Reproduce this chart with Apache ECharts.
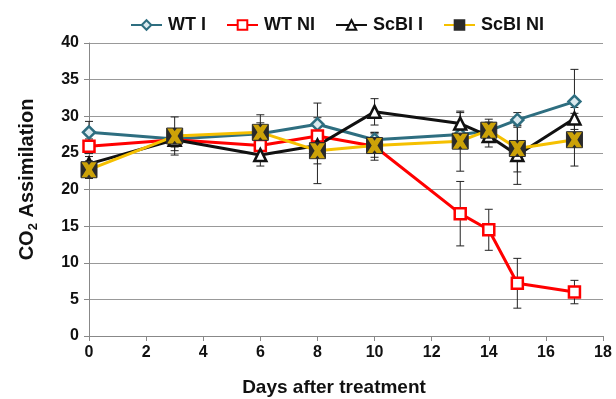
<!DOCTYPE html>
<html>
<head>
<meta charset="utf-8">
<script src="https://cdn.jsdelivr.net/npm/echarts@6/dist/echarts.min.js"></script>
<style>
  html, body { margin: 0; padding: 0; background: #fff; }
  #chart { width: 616px; height: 399px; }
</style>
</head>
<body>
<div id="chart"></div>
<script>
// days measured
var days = [0, 3, 6, 8, 10, 13, 14, 15, 17];

// CO2 assimilation means
var wtI   = [27.8, 26.9, 27.6, 28.9, 26.8, 27.5, 28.0, 29.5, 32.0];
var wtNI  = [25.9, 26.8, 26.0, 27.3, 25.9, 16.7, 14.5, 7.2, 6.0];
var scbiI  = [23.5, 26.8, 24.7, 26.0, 30.6, 29.0, 27.3, 24.7, 29.7];
var scbiNI = [22.7, 27.3, 27.8, 25.3, 26.0, 26.6, 28.1, 25.6, 26.8];

// error (+/-)
var wtIErr   = [1.5, 0.8, 1.5, 2.9, 1.0, 1.5, 1.2, 1.0, 4.4];
var wtNIErr  = [1.0, 1.0, 1.2, 1.5, 1.9, 4.4, 2.8, 3.4, 1.6];
var scbiIErr  = [1.0, 1.5, 1.5, 2.5, 1.8, 1.5, 1.5, 4.0, 1.5];
var scbiNIErr = [1.2, 2.6, 2.4, 4.5, 1.6, 4.1, 1.5, 3.2, 3.6];

var names = ['WT I', 'WT NI', 'ScBI I', 'ScBI NI'];
var fontFam = 'Liberation Sans, Arial, sans-serif';

var pairs = function(vals){
    return days.map(function(d, i){ return [d, vals[i]]; });
};
var errData = function(vals, errs){
    return days.map(function(d, i){ return [d, vals[i] - errs[i], vals[i] + errs[i]]; });
};

var renderErr = function(params, api){
    var x = api.value(0);
    var lo = api.coord([x, api.value(1)]);
    var hi = api.coord([x, api.value(2)]);
    var w = 4;
    var st = { stroke: '#222', lineWidth: 1 };
    return {
        type: 'group',
        children: [
            { type: 'line', shape: { x1: hi[0], y1: hi[1], x2: lo[0], y2: lo[1] }, style: st },
            { type: 'line', shape: { x1: hi[0] - w, y1: hi[1], x2: hi[0] + w, y2: hi[1] }, style: st },
            { type: 'line', shape: { x1: lo[0] - w, y1: lo[1], x2: lo[0] + w, y2: lo[1] }, style: st }
        ]
    };
};

var errSeries = function(vals, errs){
    return {
        type: 'custom',
        renderItem: renderErr,
        data: errData(vals, errs),
        clip: false,
        z: 3,
        silent: true
    };
};

// bold X drawn over the dark square
var xPath = 'path://M0,0 L3.6,0 L5,1.8 L6.4,0 L10,0 L6.9,5 L10,10 L6.4,10 L5,8.2 L3.6,10 L0,10 L3.1,5 Z';

var option = {
    animation: false,
    legend: {
        top: 11,
        left: 125,
        itemGap: 20,
        itemWidth: 31,
        itemHeight: 12,
        data: names,
        textStyle: { fontFamily: fontFam, fontWeight: 'bold', fontSize: 18, color: '#111', padding: [0, 0, 0, 1] }
    },
    grid: { left: 89, right: 13, top: 43, bottom: 63, outerBoundsMode: 'none' },
    xAxis: {
        type: 'value',
        min: 0, max: 18, interval: 2,
        name: 'Days after treatment',
        nameLocation: 'middle',
        nameGap: 42,
        nameTextStyle: { fontFamily: fontFam, fontWeight: 'bold', fontSize: 19, color: '#111', padding: [0, 24, 0, 0] },
        axisLine: { lineStyle: { color: '#888', width: 1 } },
        axisTick: { lineStyle: { color: '#888' }, length: 5 },
        axisLabel: { fontFamily: fontFam, fontWeight: 'bold', fontSize: 16, color: '#111', margin: 9 },
        splitLine: { show: false }
    },
    yAxis: {
        type: 'value',
        min: 0, max: 40, interval: 5,
        name: '{a|CO}{s|2}{a| Assimilation}',
        nameLocation: 'middle',
        nameRotate: 90,
        nameGap: 49,
        nameTextStyle: {
            padding: [0, 0, 0, 20],
            rich: {
                a: { fontFamily: fontFam, fontWeight: 'bold', fontSize: 20, color: '#111', lineHeight: 26 },
                s: { fontFamily: fontFam, fontWeight: 'bold', fontSize: 13, color: '#111', lineHeight: 26, verticalAlign: 'bottom', padding: [9, 0, 0, 0] }
            }
        },
        axisLine: { show: true, lineStyle: { color: '#888', width: 1 } },
        axisTick: { show: true, lineStyle: { color: '#888' }, length: 5 },
        axisLabel: { fontFamily: fontFam, fontWeight: 'bold', fontSize: 16, color: '#111', margin: 10 },
        splitLine: { lineStyle: { color: '#999', width: 1 } }
    },
    series: [
        errSeries(wtI, wtIErr),
        errSeries(wtNI, wtNIErr),
        errSeries(scbiI, scbiIErr),
        errSeries(scbiNI, scbiNIErr),
        {
            name: 'WT I', type: 'line', data: pairs(wtI), z: 4,
            symbol: 'diamond', symbolSize: 12,
            lineStyle: { color: '#2e6e80', width: 3 },
            itemStyle: { color: '#dbeaef', borderColor: '#2e6e80', borderWidth: 2.5 }
        },
        {
            name: 'WT NI', type: 'line', data: pairs(wtNI), z: 5,
            symbol: 'rect', symbolSize: 11,
            lineStyle: { color: '#ff0000', width: 3 },
            itemStyle: { color: '#ffffff', borderColor: '#ff0000', borderWidth: 2.5 }
        },
        {
            name: 'ScBI I', type: 'line', data: pairs(scbiI), z: 5,
            symbol: 'triangle', symbolSize: 12,
            lineStyle: { color: '#111111', width: 3 },
            itemStyle: { color: '#ffffff', borderColor: '#111111', borderWidth: 2.5 }
        },
        {
            name: 'ScBI NI', type: 'line', data: pairs(scbiNI), z: 6,
            symbol: 'rect', symbolSize: 16,
            lineStyle: { color: '#f5c000', width: 3 },
            itemStyle: { color: '#2a2a2a', borderColor: '#2a2a2a', borderWidth: 1 }
        },
        {
            type: 'scatter', data: pairs(scbiNI), z: 7, silent: true,
            symbol: xPath, symbolSize: 15,
            itemStyle: { color: '#f5c000' }
        }
    ]
};

var myChart = echarts.init(document.getElementById('chart'));
myChart.setOption(option);
</script>
</body>
</html>
